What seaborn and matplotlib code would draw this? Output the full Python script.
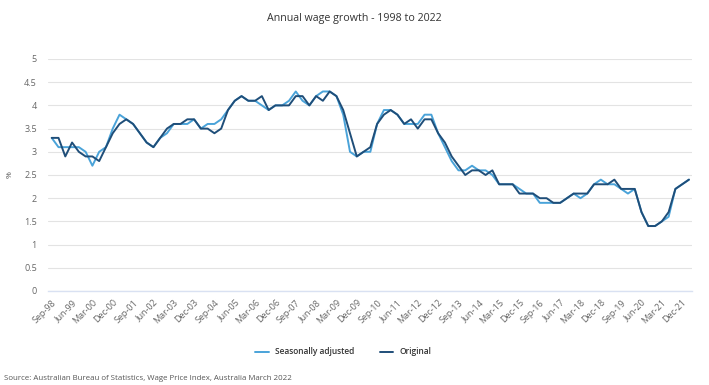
import matplotlib
matplotlib.use("Agg")
import matplotlib.pyplot as plt
import seaborn as sns
import pandas as pd

# quarterly labels Sep-98 .. Mar-22
months = ["Mar", "Jun", "Sep", "Dec"]
quarter_labels = [f"{m}-{y % 100:02d}" for y in range(1998, 2023) for m in months]
quarter_labels = quarter_labels[quarter_labels.index("Sep-98"):quarter_labels.index("Mar-22") + 1]

seasonally_adjusted = [
    3.3, 3.1, 3.1, 3.1, 3.1, 3.0, 2.7, 3.0, 3.1, 3.5,
    3.8, 3.7, 3.6, 3.4, 3.2, 3.1, 3.3, 3.4, 3.6, 3.6,
    3.6, 3.7, 3.5, 3.6, 3.6, 3.7, 3.9, 4.1, 4.2, 4.1,
    4.1, 4.0, 3.9, 4.0, 4.0, 4.1, 4.3, 4.1, 4.0, 4.2,
    4.3, 4.3, 4.2, 3.8, 3.0, 2.9, 3.0, 3.0, 3.6, 3.9,
    3.9, 3.8, 3.6, 3.6, 3.6, 3.8, 3.8, 3.4, 3.1, 2.8,
    2.6, 2.6, 2.7, 2.6, 2.6, 2.5, 2.3, 2.3, 2.3, 2.2,
    2.1, 2.1, 1.9, 1.9, 1.9, 1.9, 2.0, 2.1, 2.0, 2.1,
    2.3, 2.4, 2.3, 2.3, 2.2, 2.1, 2.2, 1.7, 1.4, 1.4,
    1.5, 1.6, 2.2, 2.3, 2.4,
]
original = [
    3.3, 3.3, 2.9, 3.2, 3.0, 2.9, 2.9, 2.8, 3.1, 3.4,
    3.6, 3.7, 3.6, 3.4, 3.2, 3.1, 3.3, 3.5, 3.6, 3.6,
    3.7, 3.7, 3.5, 3.5, 3.4, 3.5, 3.9, 4.1, 4.2, 4.1,
    4.1, 4.2, 3.9, 4.0, 4.0, 4.0, 4.2, 4.2, 4.0, 4.2,
    4.1, 4.3, 4.2, 3.9, 3.4, 2.9, 3.0, 3.1, 3.6, 3.8,
    3.9, 3.8, 3.6, 3.7, 3.5, 3.7, 3.7, 3.4, 3.2, 2.9,
    2.7, 2.5, 2.6, 2.6, 2.5, 2.6, 2.3, 2.3, 2.3, 2.1,
    2.1, 2.1, 2.0, 2.0, 1.9, 1.9, 2.0, 2.1, 2.1, 2.1,
    2.3, 2.3, 2.3, 2.4, 2.2, 2.2, 2.2, 1.7, 1.4, 1.4,
    1.5, 1.7, 2.2, 2.3, 2.4,
]
series_names = ["Seasonally adjusted", "Original"]
series_colors = ["#4aa3d9", "#1f4e79"]

df = pd.DataFrame({
    "idx": list(range(len(quarter_labels))) * 2,
    "value": seasonally_adjusted + original,
    "series": [series_names[0]] * len(quarter_labels) + [series_names[1]] * len(quarter_labels),
})

sns.set_style("white")
plt.rcParams["font.family"] = ["Open Sans", "DejaVu Sans"]

fig = plt.figure(figsize=(7.09, 3.85), dpi=100)
ax = fig.add_axes([48 / 709, 1 - 291 / 385, 644 / 709, 232 / 385])

sns.lineplot(data=df, x="idx", y="value", hue="series", palette=series_colors,
             hue_order=series_names, linewidth=1.4, ax=ax, legend=False)

ax.set_xlim(-0.55, len(quarter_labels) - 0.55)
ax.set_ylim(0, 5)
ax.set_yticks([0, 0.5, 1, 1.5, 2, 2.5, 3, 3.5, 4, 4.5, 5])
ax.set_yticklabels(["0", "0.5", "1", "1.5", "2", "2.5", "3", "3.5", "4", "4.5", "5"])
ax.yaxis.grid(True, color="#e3e3e3", linewidth=0.8)
ax.set_axisbelow(True)

tick_pos = list(range(0, len(quarter_labels), 3))
ax.set_xticks(tick_pos)
ax.set_xticklabels([quarter_labels[i] for i in tick_pos], rotation=45, ha="right",
                   rotation_mode="anchor")
ax.tick_params(axis="x", length=2, color="#d0d8e8", labelsize=6.5, labelcolor="#666666", pad=3)
ax.tick_params(axis="y", length=0, labelsize=6.5, labelcolor="#666666", pad=8)

for s in ["top", "right", "left"]:
    ax.spines[s].set_visible(False)
ax.spines["bottom"].set_color("#d9e1f2")
ax.spines["bottom"].set_linewidth(1.0)

ax.set_xlabel("")
ax.set_ylabel("%", fontsize=6, color="#555555")
ax.yaxis.set_label_coords(-0.053, 0.5)

fig.text(0.5, 1 - 18 / 385, "Annual wage growth - 1998 to 2022", ha="center", va="center",
         fontsize=7.7, color="#333333")

handles = [plt.Line2D([], [], color=c, lw=1.4) for c in series_colors]
leg = fig.legend(handles, series_names, loc="center", bbox_to_anchor=(0.4845, 1 - 352 / 385),
                 ncol=2, frameon=False, handlelength=1.6, columnspacing=3.0,
                 prop={"size": 6, "weight": "semibold"})
for t in leg.get_texts():
    t.set_color("#333333")

fig.text(4 / 709, 1 - 378 / 385,
         "Source: Australian Bureau of Statistics, Wage Price Index, Australia March 2022",
         ha="left", va="center", fontsize=5.7, color="#555555")

fig.savefig("out.png", dpi=100)
